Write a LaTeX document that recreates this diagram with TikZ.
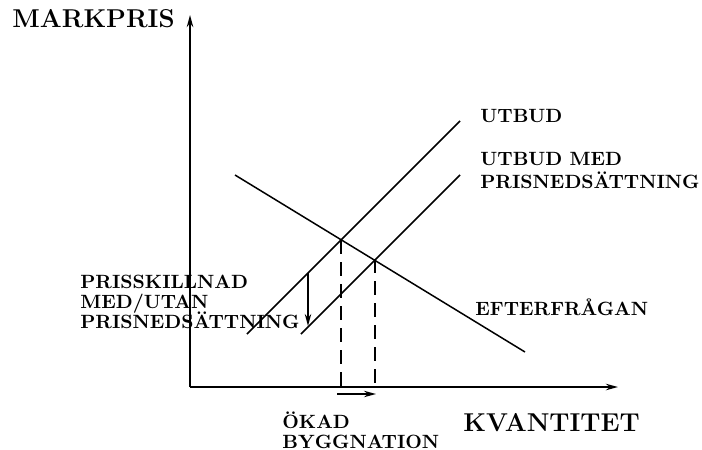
\documentclass[tikz,border=0pt]{standalone}
\usetikzlibrary{arrows.meta}
\newcommand{\labelfont}{\fontsize{9.6}{10}\selectfont\bfseries\lineskiplimit-10pt\relax}

\begin{document}
\begin{tikzpicture}[x=0.5pt, y=-0.5pt,
  lbl/.style={font=\labelfont, align=left, inner sep=0pt, anchor=west},
  biglbl/.style={font=\fontsize{12.9}{13}\selectfont\bfseries, inner sep=0pt, anchor=west},
  axis/.style={line width=1pt, -{Stealth[length=6pt, width=3.2pt]}},
  curve/.style={line width=0.75pt},
  guide/.style={line width=0.75pt, dash pattern=on 7pt off 4pt}]
\useasboundingbox (0,0) rectangle (702,450);

% Axes
\coordinate (O) at (190,387);
\coordinate (ytop) at (190,15);
\coordinate (xend) at (618,387);
\draw[axis] (O) -- (ytop);
\draw[axis] (O) -- (xend);
\node[biglbl] (ylabel) at (12,19) {MARKPRIS};
\node[biglbl] (xlabel) at (463,423) {KVANTITET};

% Demand and supply
\coordinate (d1) at (235,175);
\coordinate (d2) at (525,352);
\coordinate (s1a) at (247,334);
\coordinate (s1b) at (460,121);
\coordinate (s2a) at (301,334);
\coordinate (s2b) at (460,175);
\draw[curve] (d1) -- (d2);
\draw[curve] (s1a) -- (s1b);
\draw[curve] (s2a) -- (s2b);
\node[lbl] (utbud) at (480,116) {UTBUD};
\node[lbl] (utbudmed) at (480,171) {UTBUD MED\\[1.5pt]PRISNEDSÄTTNING};
\node[lbl] (efterfragan) at (475,307) {EFTERFRÅGAN};

% Equilibria and dashed guides
\coordinate (eq1) at (341,240);
\coordinate (eq2) at (375,259);
\coordinate (q1) at (341,387);
\coordinate (q2) at (375,387);
\draw[guide] (eq1) -- (q1);
\draw[guide] (eq2) -- (q2);

% Price gap
\coordinate (gaptop) at (308,273);
\coordinate (gapbot) at (308,326);
\draw[curve, -{Stealth[length=6pt, width=3.2pt]}] (gaptop) -- (gapbot);
\node[lbl] (prisskillnad) at (80,302) {PRISSKILLNAD\\MED/UTAN\\PRISNEDSÄTTNING};

% Quantity shift
\coordinate (shiftL) at (337,394);
\coordinate (shiftR) at (376,394);
\draw[curve, -{Stealth[length=6pt, width=3.2pt]}] (shiftL) -- (shiftR);
\node[lbl] (okad) at (282,430) {ÖKAD\\BYGGNATION};

\end{tikzpicture}
\end{document}
